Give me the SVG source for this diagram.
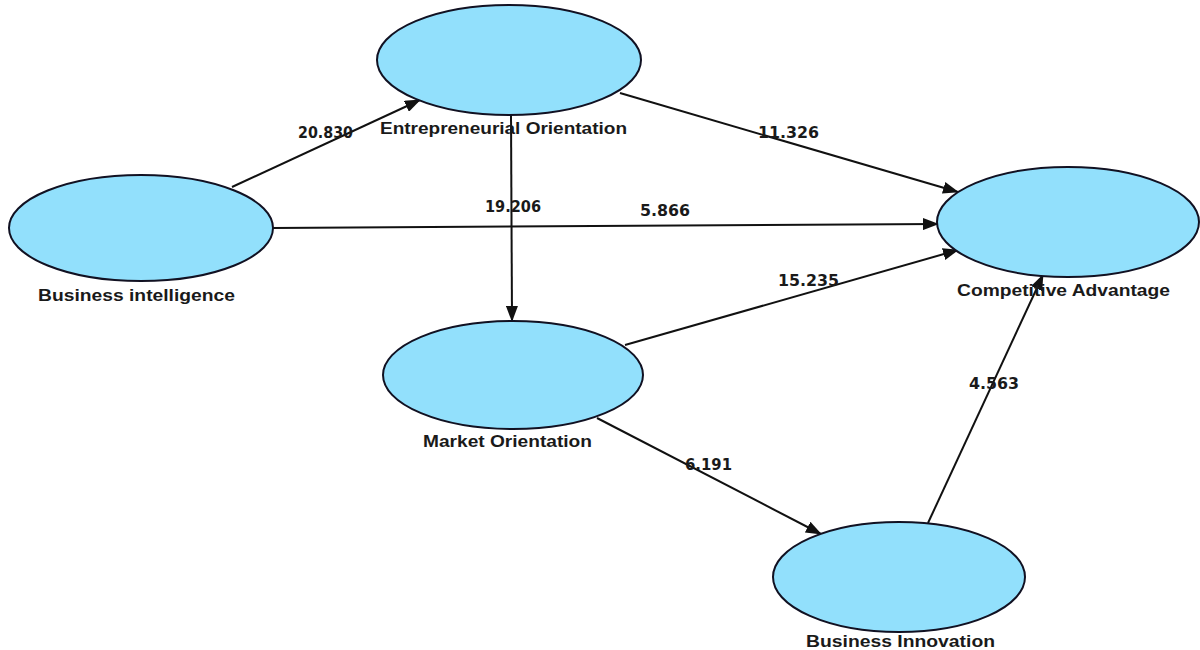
<svg xmlns="http://www.w3.org/2000/svg" width="1200" height="650" viewBox="0 0 1200 650">
<style>
.node{fill:#92E0FC;stroke:#111122;stroke-width:2}
.lbl{font-family:"Liberation Sans",Arial,sans-serif;font-weight:bold;font-size:17px;fill:#1a1a1a}
.num{font-family:"DejaVu Sans","Liberation Sans",sans-serif;font-weight:bold;font-size:16px;fill:#1a1a1a}
.edge{stroke:#111;stroke-width:2;fill:none;marker-end:url(#ah)}
</style>
<defs>
<marker id="ah" markerUnits="userSpaceOnUse" markerWidth="16" markerHeight="12" refX="15" refY="6" orient="auto">
<path d="M0,0 L16,6 L0,12 z" fill="#111"/>
</marker>
</defs>
<rect width="1200" height="650" fill="#fff"/>
<g id="connectors">
<line class="edge" x1="232" y1="187" x2="420" y2="100"/>
<line class="edge" x1="620" y1="93" x2="958" y2="192"/>
<line class="edge" x1="273" y1="228" x2="938" y2="224"/>
<line class="edge" x1="511" y1="115" x2="512" y2="321"/>
<line class="edge" x1="625" y1="345" x2="958" y2="250"/>
<line class="edge" x1="597" y1="418" x2="821" y2="534"/>
<line class="edge" x1="928" y1="523" x2="1043" y2="275"/>
<text class="num" x="298" y="138" textLength="55" lengthAdjust="spacingAndGlyphs">20.830</text>
<text class="num" x="758" y="138" textLength="61" lengthAdjust="spacingAndGlyphs">11.326</text>
<text class="num" x="485" y="212" textLength="56" lengthAdjust="spacingAndGlyphs">19.206</text>
<text class="num" x="640" y="216" textLength="50" lengthAdjust="spacingAndGlyphs">5.866</text>
<text class="num" x="778" y="286" textLength="61" lengthAdjust="spacingAndGlyphs">15.235</text>
<text class="num" x="969" y="389" textLength="50" lengthAdjust="spacingAndGlyphs">4.563</text>
<text class="num" x="685" y="470" textLength="47" lengthAdjust="spacingAndGlyphs">6.191</text>
</g>
<g id="entrepreneurial-orientation">
<ellipse class="node" cx="509" cy="60" rx="132" ry="55"/>
<text class="lbl" x="380" y="134" textLength="247" lengthAdjust="spacingAndGlyphs">Entrepreneurial Orientation</text>
</g>
<g id="business-intelligence">
<ellipse class="node" cx="141" cy="228" rx="132" ry="53"/>
<text class="lbl" x="38" y="301" textLength="197" lengthAdjust="spacingAndGlyphs">Business intelligence</text>
</g>
<g id="competitive-advantage">
<ellipse class="node" cx="1068" cy="222" rx="131" ry="55"/>
<text class="lbl" x="957" y="296" textLength="213" lengthAdjust="spacingAndGlyphs">Competitive Advantage</text>
</g>
<g id="market-orientation">
<ellipse class="node" cx="513" cy="375" rx="130" ry="54"/>
<text class="lbl" x="423" y="447" textLength="169" lengthAdjust="spacingAndGlyphs">Market Orientation</text>
</g>
<g id="business-innovation">
<ellipse class="node" cx="899" cy="577" rx="126" ry="55"/>
<text class="lbl" x="806" y="647" textLength="189" lengthAdjust="spacingAndGlyphs">Business Innovation</text>
</g>
</svg>
